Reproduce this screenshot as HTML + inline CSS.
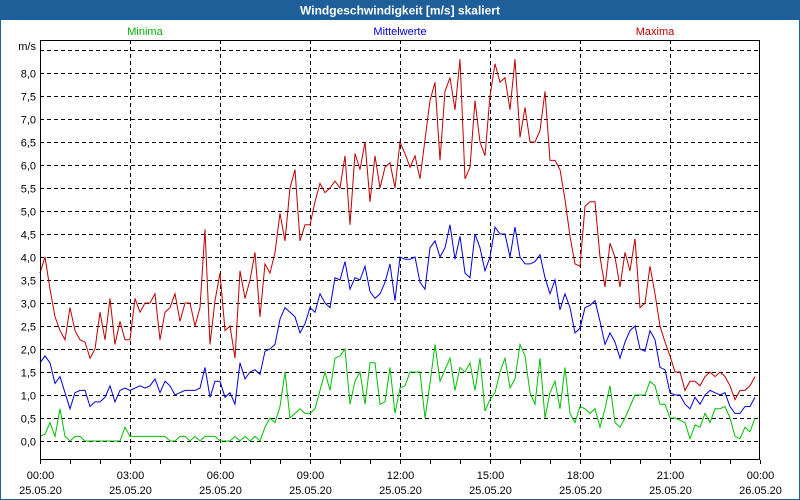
<!DOCTYPE html>
<html><head><meta charset="utf-8"><style>
html,body{margin:0;padding:0;background:#fff}
svg{display:block;font-family:"Liberation Sans",sans-serif}
</style></head><body>
<svg id="chart" width="800" height="500" xmlns="http://www.w3.org/2000/svg">
<rect x="0.5" y="0.5" width="799" height="499" fill="#fff" stroke="#1f5f99"/>
<rect x="0" y="0" width="800" height="20" fill="#1f5f99"/>
<text x="400" y="14.5" text-anchor="middle" font-size="12" font-weight="bold" fill="#fff">Windgeschwindigkeit [m/s] skaliert</text>
<text x="145" y="35" text-anchor="middle" font-size="11" fill="#00b000">Minima</text>
<text x="400" y="35" text-anchor="middle" font-size="11" fill="#0000d0">Mittelwerte</text>
<text x="655" y="35" text-anchor="middle" font-size="11" fill="#c00000">Maxima</text>
<text x="36" y="50" text-anchor="end" font-size="11">m/s</text>
<g id="grid"></g>
<g id="series"></g>
<rect x="40.5" y="40.5" width="719" height="419" fill="none" stroke="#000"/>
<g id="axes"></g>
</svg>
<script>
const yTicks=[0,0.5,1,1.5,2,2.5,3,3.5,4,4.5,5,5.5,6,6.5,7,7.5,8,8.5];
const xTickHours=[0,3,6,9,12,15,18,21,24];
const xTickLabels=["00:00","03:00","06:00","09:00","12:00","15:00","18:00","21:00","00:00"];
const xTickDates=["25.05.20","25.05.20","25.05.20","25.05.20","25.05.20","25.05.20","25.05.20","25.05.20","26.05.20"];
const maxima=[3.65,4.0,3.3,2.7,2.4,2.2,2.9,2.4,2.2,2.15,1.8,2.0,2.8,2.2,3.1,2.1,2.6,2.2,2.2,3.1,2.8,3.0,3.0,3.2,2.2,2.8,2.9,3.2,2.6,3.0,3.0,2.5,2.9,
4.6,2.1,3.05,3.65,2.4,2.5,1.8,3.7,3.1,3.5,4.1,2.7,3.85,3.65,4.1,4.95,4.35,5.5,5.9,4.35,4.7,4.7,5.2,5.6,5.4,5.5,5.65,5.5,6.2,4.7,6.25,5.9,6.5,5.2,6.2,5.5,5.95,6.05,
5.5,6.5,6.25,5.95,6.2,5.7,6.55,7.4,7.8,6.1,7.6,7.9,7.2,8.3,5.7,5.95,7.4,6.5,6.2,7.5,8.2,7.8,7.9,7.2,8.3,6.6,7.25,6.5,6.5,6.75,7.6,6.1,6.1,5.9,5.25,4.45,3.85,3.8,
5.1,5.2,5.2,4.0,3.35,4.3,4.0,3.35,4.1,3.7,4.4,2.9,3.0,3.8,3.2,2.5,2.15,1.85,1.5,1.5,1.1,1.3,1.3,1.2,1.4,1.5,1.4,1.5,1.4,1.2,0.9,1.1,1.1,1.2,1.4];
const mittelwerte=[1.7,1.85,1.7,1.25,1.4,1.05,0.7,1.05,1.1,1.1,0.75,0.85,0.85,0.95,1.2,0.85,1.1,1.15,1.1,1.15,1.2,1.15,1.2,1.35,1.05,1.3,1.2,1.0,1.05,1.1,1.1,1.1,1.15,
1.6,0.95,1.3,1.3,0.95,1.05,0.8,1.7,1.35,1.5,1.55,1.45,1.95,2.0,2.1,2.65,2.9,2.8,2.7,2.35,2.55,2.9,2.8,3.2,3.0,2.9,3.55,3.5,3.9,3.3,3.55,3.5,3.8,3.25,3.1,3.2,3.45,3.85,
3.05,4.0,3.95,3.95,4.0,3.45,3.3,4.2,4.35,4.0,4.2,4.7,3.95,4.45,3.65,3.55,4.5,4.2,3.7,4.0,4.65,4.5,4.5,4.0,4.65,4.0,3.85,3.85,3.9,4.05,3.55,3.2,3.5,2.85,3.2,2.9,2.35,2.45,
2.9,2.95,3.05,2.6,2.1,2.35,2.15,1.8,2.15,2.4,2.5,2.0,1.95,2.4,2.2,1.6,1.55,1.05,1.0,1.0,0.8,0.7,0.95,0.8,1.0,1.1,1.05,1.0,1.05,0.75,0.6,0.6,0.75,0.75,0.95];
const minima=[0.1,0.15,0.4,0.1,0.7,0.1,0,0.1,0.1,0,0,0,0,0,0,0,0,0.3,0.1,0.1,0.1,0.1,0.1,0.1,0.1,0.1,0,0,0.1,0.1,0,0.1,0,
0.1,0.1,0.1,0,0,0,0.1,0,0.1,0,0.1,0,0.3,0.5,0.4,0.75,1.5,0.5,0.6,0.7,0.6,0.6,0.7,1.1,1.5,1.1,1.8,1.85,2.0,0.8,1.3,1.5,0.8,1.7,1.7,0.8,0.85,1.6,
0.6,1.15,1.2,1.5,1.5,1.5,0.5,1.25,2.1,1.3,1.55,1.8,1.1,1.6,1.5,1.7,1.1,1.8,0.65,0.9,1.05,1.5,1.8,1.15,1.35,2.1,1.85,1.05,0.8,1.8,0.5,1.05,1.3,0.7,1.6,0.6,0.4,0.75,
0.7,0.6,0.7,0.3,0.7,1.2,0.4,0.3,0.5,0.75,1.0,1.0,1.0,1.3,1.2,0.8,0.8,0.5,0.5,0.45,0.4,0.05,0.35,0.3,0.6,0.4,0.7,0.7,0.75,0.5,0.1,0.05,0.3,0.2,0.5];
const NS="http://www.w3.org/2000/svg";
function yScale(v){return 441-46*v;}
function xScale(h){return 40+30*h;}
function xIndex(i){return xScale(i/6);}
const grid=document.getElementById('grid'),axes=document.getElementById('axes'),series=document.getElementById('series');
function mk(tag,attrs,parent){const e=document.createElementNS(NS,tag);for(const k in attrs)e.setAttribute(k,attrs[k]);parent.appendChild(e);return e;}
yTicks.forEach(v=>{
  const y=Math.round(yScale(v))+0.5;
  const l=mk('line',{x1:40,x2:760,y1:y,y2:y,stroke:'#000','stroke-dasharray':'4,3'},grid);
  
  
  if(v<8.5){
    const t=mk('text',{x:36,y:y+4,'text-anchor':'end','font-size':11},axes);
    t.textContent=v.toFixed(1).replace('.',',');
    
    
  }
});
xTickHours.forEach((h,i)=>{
  const x=Math.round(xScale(h))+0.5;
  if(h>0&&h<24){
    const l=mk('line',{x1:x,x2:x,y1:40,y2:460,stroke:'#000','stroke-dasharray':'4,3'},grid);
    
    
  }
  const t1=mk('text',{x:x,y:479,'text-anchor':'middle','font-size':11},axes);
  t1.textContent=xTickLabels[i];
  
  
  const t2=mk('text',{x:x,y:494,'text-anchor':'middle','font-size':11},axes);
  t2.textContent=xTickDates[i];
  
  
});
for(let h=0;h<=24;h++){
  const x=Math.round(xScale(h))+0.5;
  const l=mk('line',{x1:x,x2:x,y1:460,y2:464,stroke:'#000'},axes);
  
  
}
function drawLine(arr,color,name){
  const pts=arr.map((v,i)=>xIndex(i).toFixed(1)+','+yScale(v).toFixed(1)).join(' ');
  const p=mk('polyline',{points:pts,fill:'none',stroke:color,'stroke-width':1},series);
  
  
}
drawLine(minima,'#00c000','minima-line');
drawLine(mittelwerte,'#0000e0','mittelwerte-line');
drawLine(maxima,'#c00000','maxima-line');
</script>
</body></html>
